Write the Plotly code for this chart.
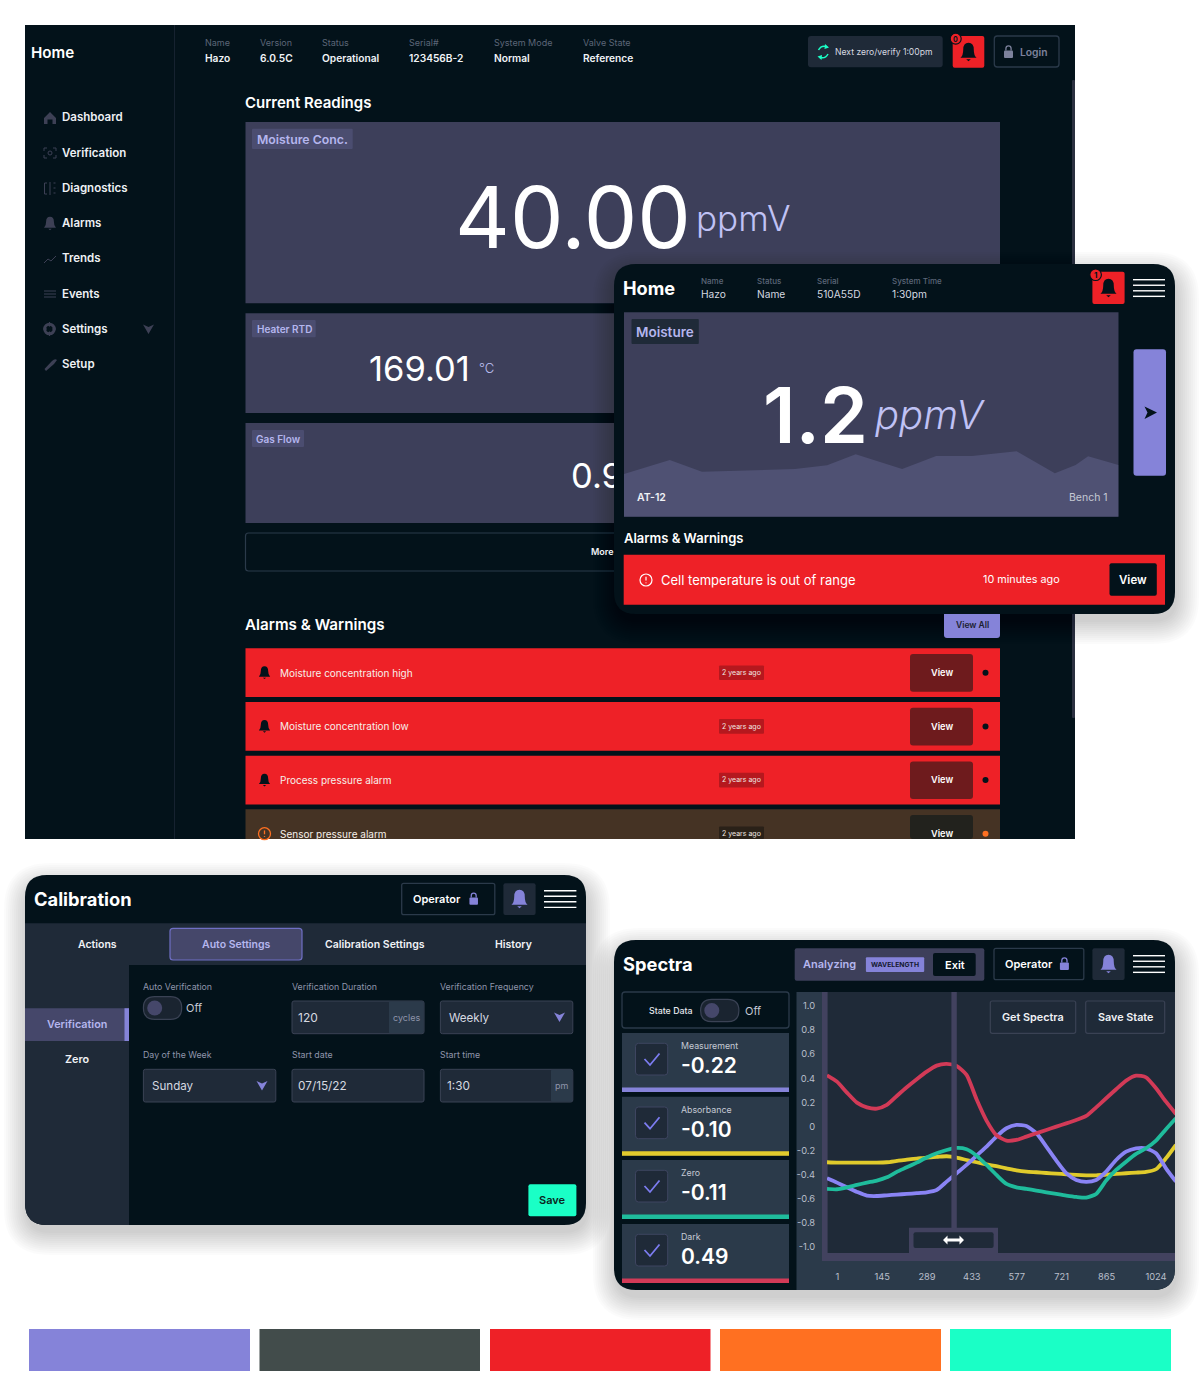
import plotly.graph_objects as go

# palette swatches along the bottom
PALETTE = ["#8583d9", "#424c4b", "#ee2127", "#ff7021", "#1affc6"]

# main dashboard
NAV_ITEMS = ["Dashboard", "Verification", "Diagnostics", "Alarms", "Trends", "Events", "Settings", "Setup"]
HEADER_LABELS = ["Name", "Version", "Status", "Serial#", "System Mode", "Valve State"]
HEADER_VALUES = ["Hazo", "6.0.5C", "Operational", "123456B-2", "Normal", "Reference"]
ALARM_TEXTS = ["Moisture concentration high", "Moisture concentration low", "Process pressure alarm", "Sensor pressure alarm"]
ALARM_AGE = "2 years ago"

# home popup
POPUP_LABELS = ["Name", "Status", "Serial", "System Time"]
POPUP_VALUES = ["Hazo", "Name", "510A55D", "1:30pm"]
TREND_T = [0, 128, 218, 478, 568, 648, 778, 873, 973, 1098, 1205, 1263, 1298, 1383]
TREND_V = [128, 170, 135, 143, 154, 187, 143, 182, 182, 196, 130, 155, 181, 155]

# calibration tabs
CAL_TABS = ["Actions", "Auto Settings", "Calibration Settings", "History"]

# spectra panel
READOUT_NAMES = ["Measurement", "Absorbance", "Zero", "Dark"]
READOUT_VALUES = ["-0.22", "-0.10", "-0.11", "0.49"]
READOUT_COLOURS = ["#8583d9", "#e0cb2c", "#1fbc9c", "#d23a57"]
WAVE_TICKS = [1, 145, 289, 433, 577, 721, 865, 1024]
LEVEL_TICKS = [1.0, 0.8, 0.6, 0.4, 0.2, 0, -0.2, -0.4, -0.6, -0.8, -1.0]
LEVEL_LABELS = ["1.0", "0.8", "0.6", "0.4", "0.2", "0", "-0.2", "-0.4", "-0.6", "-0.8", "-1.0"]
WAVE = list(range(-32, 1089, 32))
DARK = [.425, .372, .281, .198, .159, .148, .179, .253, .325, .392, .455, .505, .519, .502, .428, .226, .049, -.073,
        -.117, -.112, -.084, -.056, -.029, -.001, .026, .054, .087, .159, .234, .309, .381, .422, .408, .317, .206, .104]
MEASUREMENT = [-.430, -.466, -.505, -.543, -.574, -.577, -.571, -.565, -.560, -.554, -.546, -.527, -.458, -.388, -.319,
               -.242, -.167, -.084, -.015, .013, .004, -.056, -.167, -.283, -.388, -.444, -.460, -.444, -.375, -.278,
               -.209, -.181, -.181, -.222, -.347, -.458]
ABSORBANCE = [-.297, -.300, -.300, -.300, -.300, -.300, -.297, -.286, -.275, -.267, -.258, -.253, -.247, -.258, -.278,
              -.297, -.314, -.330, -.347, -.364, -.375, -.380, -.386, -.391, -.397, -.402, -.405, -.405, -.400, -.394,
              -.388, -.383, -.377, -.355, -.264, -.153]
ZERO = [-.518, -.521, -.505, -.485, -.466, -.449, -.422, -.377, -.339, -.300, -.258, -.222, -.195, -.178, -.189, -.242,
        -.319, -.402, -.477, -.505, -.518, -.532, -.546, -.560, -.574, -.585, -.590, -.560, -.449, -.361, -.292, -.228,
        -.181, -.117, -.023, .068]

BG = "#03121a"
SLATE = "#1f2a38"
STEEL = "#2b3a4a"
PANEL = "#3d3f5a"
BAND = "#42425f"
LILAC = "#b5b6ee"
MUTED = "#8f95ab"
FONT = "Inter"

shapes = []
notes = []


def rr(x0, y0, x1, y1, r=0, fill=None, line=None, lw=1, layer="below"):
    """Rounded box in page pixels"""
    p = (f"M{x0+r} {y0} L{x1-r} {y0} Q{x1} {y0} {x1} {y0+r} L{x1} {y1-r} Q{x1} {y1} {x1-r} {y1} "
         f"L{x0+r} {y1} Q{x0} {y1} {x0} {y1-r} L{x0} {y0+r} Q{x0} {y0} {x0+r} {y0} Z")
    path(p, fill, line, lw, layer)


def path(p, fill=None, line=None, lw=1, layer="below"):
    shapes.append(dict(type="path", path=p, xref="x", yref="y", layer=layer,
                       fillcolor=fill or "rgba(0,0,0,0)",
                       line=dict(color=line or "rgba(0,0,0,0)", width=lw if line else 0)))


def circle(cx, cy, r, fill=None, line=None, lw=1):
    shapes.append(dict(type="circle", xref="x", yref="y", x0=cx - r, x1=cx + r, y0=cy - r, y1=cy + r, layer="below",
                       fillcolor=fill or "rgba(0,0,0,0)",
                       line=dict(color=line or "rgba(0,0,0,0)", width=lw if line else 0)))


def t(x, y, text, size=10, color="#ffffff", weight=400, anchor="left", style="normal"):
    # annotations sit a little inside their anchor, pull them back
    if anchor == "left":
        x -= 1.3
    elif anchor == "right":
        x += 1
    notes.append(dict(x=x, y=y - 0.2, xref="x", yref="y", text=text, showarrow=False, xanchor=anchor, yanchor="middle",
                      borderpad=0, font=dict(family=FONT, size=size, color=color, weight=weight, style=style)))


def bell(cx, cy, s=1.0, color="#000000"):
    p = (f"M{cx-7*s} {cy+5*s} Q{cx-4.6*s} {cy+3*s} {cx-4.6*s} {cy-2*s} Q{cx-4.6*s} {cy-8*s} {cx} {cy-8*s} "
         f"Q{cx+4.6*s} {cy-8*s} {cx+4.6*s} {cy-2*s} Q{cx+4.6*s} {cy+3*s} {cx+7*s} {cy+5*s} Z "
         f"M{cx-2*s} {cy+6.2*s} L{cx+2*s} {cy+6.2*s} L{cx} {cy+8*s} Z")
    path(p, color)


def chevron(cx, cy, s=1.0, color="#8583d9"):
    path(f"M{cx-5.5*s} {cy-4.5*s} L{cx} {cy-2*s} L{cx+5.5*s} {cy-4.5*s} L{cx} {cy+5*s} Z", color)


def lock(cx, cy, color, s=1.0):
    rr(cx - 4.5 * s, cy - 1.5 * s, cx + 4.5 * s, cy + 6 * s, 1, color)
    path(f"M{cx-2.6*s} {cy-1.5*s} L{cx-2.6*s} {cy-3.5*s} Q{cx-2.6*s} {cy-6.2*s} {cx} {cy-6.2*s} "
         f"Q{cx+2.6*s} {cy-6.2*s} {cx+2.6*s} {cy-3.5*s} L{cx+2.6*s} {cy-1.5*s}", None, color, 1.3 * s)


def burger(x0, x1, y0):
    for k in range(4):
        yy = y0 + k * 5.55
        path(f"M{x0} {yy} L{x1} {yy}", None, "#ffffff", 1.4)


def toggle(x0, y0, x1, y1):
    rr(x0, y0, x1, y1, (y1 - y0) / 2, "#1a2430", "#3a4254", 1.2)
    circle(x0 + (y1 - y0) / 2, (y0 + y1) / 2, 7.5, "#45476a")


def shadow(x0, y0, x1, y1, r):
    for k in range(12, 0, -1):
        rr(x0 - k * 2 + 3, y0 - k * 2 + 12, x1 + k * 2, y1 + k * 2 + 6, r + k * 2, "rgba(0,0,0,0.015)")


def alert(cx, cy, r, color, lw=1.3):
    circle(cx, cy, r, None, color, lw)
    path(f"M{cx} {cy-r*.55} L{cx} {cy+r*.1}", None, color, lw)
    path(f"M{cx} {cy+r*.4} L{cx} {cy+r*.55}", None, color, lw)


# ---- main dashboard ----
rr(25, 25, 1075, 839, 0, BG)
path("M174.5 25 L174.5 839", None, "#162230", 1)
rr(1072, 80, 1075, 718, 1, "#2b3040")
t(31, 53, "Home", 15.2, "#ffffff", 600)

nav_y = [117.5, 153, 188, 223.5, 258.5, 294, 329, 364.5]
for name, yy in zip(NAV_ITEMS, nav_y):
    t(62.5, yy, name, 11.5, "#eef0f4", 600)
ic = "#3d4055"
path("M44 118 L50 112 L56 118 L56 124 L52.5 124 L52.5 119.5 L47.5 119.5 L47.5 124 L44 124 Z", ic)
path("M44 151 L44 148 L47 148 M53 148 L56 148 L56 151 M56 155 L56 158 L53 158 M47 158 L44 158 L44 155", None, ic, 1)
circle(50, 153, 2, None, ic, 1)
path("M47 183 L44.5 183 L44.5 194 L47 194 M50 182 L50 195", None, ic, 1)
path("M53.5 183 L55.5 183 M53.5 188 L55.5 188 M53.5 193 L55.5 193", None, ic, 1)
bell(50, 223.5, 0.85, ic)
path("M44 263 L48 259 L51 261 L56 256", None, ic, 1)
path("M44 291 L56 291 M44 294 L56 294 M44 297 L56 297", None, ic, 1)
circle(49.5, 329, 4.8, None, ic, 3)
path("M49.5 322 L49.5 336 M43 329 L56 329", None, ic, 1.2)
circle(49.5, 329, 2.6, BG)
path("M44.5 369 L52 361 Q55 358 57 360 L54 364 L46 371 Z", ic)
chevron(148.5, 329, 1.0, "#3d4055")

for x, a, b in zip([205.3, 260.7, 322.7, 409.5, 494, 583.5], HEADER_LABELS, HEADER_VALUES):
    t(x, 43, a, 9, "#5c6678")
    t(x, 58.5, b, 10.2, "#f0f2f6", 600)

rr(808, 36, 942.7, 67.3, 3, SLATE)
path("M818.5 50 Q821 45 826.5 46.5 M828 54 Q825.5 59 820 57.5", None, "#1affc6", 1.5)
path("M825 44 L829 47.5 L824.5 49 Z M821.5 60 L817.5 56.5 L822 55 Z", "#1affc6")
t(835.7, 52, "Next zero/verify 1:00pm", 8.6, "#d6d9e0")
rr(952.7, 36, 984.3, 67.7, 2, "#ee2127")
bell(968.5, 52, 1.15, "#03121a")
circle(955.7, 38.7, 5.5, "#ee2127", "#03121a", 1.2)
t(955.7, 39.4, "0", 7, "#03121a", 700, "center")
rr(994.3, 36, 1059, 67, 3, None, STEEL, 1.3)
lock(1008.5, 52, "#7d829c", 1.0)
t(1020.5, 52, "Login", 10.3, "#7d829c", 600)

t(245.5, 103, "Current Readings", 15, "#ffffff", 600)
rr(245.5, 122, 1000, 303.3, 0, PANEL)
rr(252, 128.7, 352.7, 149, 1, "#4b4d70")
t(302.3, 139.5, "Moisture Conc.", 12.3, LILAC, 600, "center")
t(455, 218, "40.00", 85, "#ffffff", 400)
t(696, 218, "ppmV", 35, "#c0c2f5", 300)

rr(245.5, 313.3, 1000, 413, 0, PANEL)
rr(252, 320, 315.7, 337.3, 1, "#4b4d70")
t(284, 329, "Heater RTD", 10, LILAC, 600, "center")
t(369, 369, "169.01", 34.5, "#ffffff", 400)
t(479, 368.5, "°C", 13, "#c0c2f5", 300)

rr(245.5, 423, 1000, 523, 0, PANEL)
rr(252, 430, 304, 447, 1, "#4b4d70")
t(278, 439, "Gas Flow", 10, LILAC, 600, "center")

rr(245.5, 533, 1000, 571, 3, None, STEEL, 1.2)
t(591.5, 552, "More", 9, "#f0f2f6", 600)

t(245.5, 625, "Alarms &amp; Warnings", 15.2, "#ffffff", 600)

row_tops = [648.3, 702, 755.7, 809.3]
for k, (name, top) in enumerate(zip(ALARM_TEXTS, row_tops)):
    warn = k == 3
    mid = top + 24.4
    bottom = min(top + 48.7, 839)
    rr(245.5, top, 1000, bottom, 0, "#453324" if warn else "#ee2127")
    if warn:
        alert(264.5, mid, 6, "#ff7021", 1.3)
    else:
        bell(264.5, mid, 0.8, "#03121a")
    t(280, mid, name, 10, "#f6f0ea")
    rr(719, mid - 7.3, 764, min(mid + 7.3, 839), 1, "#2a2118" if warn else "#b5181e")
    t(741.5, mid, ALARM_AGE, 7, "#f0e6e0", 400, "center")
    rr(910, top + 5.7, 973, min(top + 43.4, 839), 3, "#22221d" if warn else "#6e1b1d")
    t(941.5, mid, "View", 9.2, "#ffffff", 600, "center")
    circle(985.5, mid, 3, "#ff7021" if warn else BG)

# ---- home popup ----
shadow(614, 264, 1175, 614, 22)
rr(944, 600, 1000, 638, 3, "#8583d9")
t(972, 625, "View All", 8.5, "#1b2030", 600, "center")
rr(614, 264, 1175, 614, 22, BG)
t(623, 288, "Home", 18.2, "#ffffff", 700)
for x, a, b in zip([701.3, 757.5, 817, 892.7], POPUP_LABELS, POPUP_VALUES):
    t(x, 281, a, 8, "#5c6678", 500)
    t(x, 294.5, b, 10.2, "#d6d9e0")
rr(1092.4, 271.7, 1124.6, 304, 2, "#ee2127")
bell(1108.5, 288, 1.15, "#03121a")
circle(1095.6, 274.7, 5.8, "#ee2127", "#03121a", 1.2)
t(1095.6, 275.4, "1", 8, "#03121a", 700, "center")
burger(1133, 1165, 279.7)

rr(624, 312.3, 1118.5, 516.7, 0, PANEL)
rr(631.5, 319, 698.8, 344, 1, SLATE)
t(665, 332, "Moisture", 13.5, LILAC, 600, "center")
t(763, 415, "1.2", 77, "#ffffff", 600)
t(875, 415, "ppmV", 40, "#c0c2f5", 300, "left", "italic")
t(637, 497.5, "AT-12", 10.5, "#f0f2f6", 600)
t(1108, 497.5, "Bench 1", 10.5, "#c5c9d4", 400, "right")
rr(1133.5, 349.3, 1166, 475.7, 3, "#8583d9")
path("M1144.5 406.5 L1157 412.5 L1144.5 419 L1147.5 412.5 Z", "#03121a")

t(624, 538, "Alarms &amp; Warnings", 13, "#ffffff", 600)
rr(623.7, 554.7, 1165, 604.7, 0, "#ee2127")
alert(646, 580, 6, "#ffffff", 1.2)
t(661, 580, "Cell temperature is out of range", 13, "#ffffff")
t(983.6, 580, "10 minutes ago", 10.8, "#ffffff")
rr(1109.5, 563.3, 1156.8, 595.7, 2, BG)
t(1133, 579.7, "View", 11.5, "#ffffff", 600, "center")

# ---- calibration ----
shadow(25, 875, 586, 1225, 22)
rr(25, 875, 586, 1225, 22, BG)
path("M25 923.3 L586 923.3 L586 965 L129 965 L129 1225 L47 1225 Q25 1225 25 1203 Z", SLATE)
t(34.5, 899, "Calibration", 18.3, "#ffffff", 700)
rr(401.7, 883.3, 494.8, 914.7, 2, None, STEEL, 1.3)
t(436.5, 899, "Operator", 11, "#ffffff", 600, "center")
lock(473.7, 899, "#8583d9", 0.95)
rr(503.4, 883.3, 535.6, 915, 2, SLATE)
bell(519.5, 899, 1.15, "#8583d9")
burger(544, 576.4, 890.7)

rr(170, 928.3, 302, 960, 3, "#45476a", "#6f6fc4", 1.2)
for name, x in zip(CAL_TABS, [97, 236, 375, 513.5]):
    t(x, 944.5, name, 10.5, LILAC if name == "Auto Settings" else "#f0f2f6", 600, "center")
rr(25, 1008.3, 129, 1041, 0, "#45476a")
rr(124.5, 1008.3, 129, 1041, 0, "#8583d9")
t(77, 1025, "Verification", 10.8, LILAC, 600, "center")
t(77, 1060, "Zero", 10.8, "#f0f2f6", 600, "center")

t(143.5, 987, "Auto Verification", 8.8, MUTED)
toggle(143.4, 996.7, 181.7, 1019.3)
t(186, 1008.5, "Off", 11, "#c5c9d4")
t(292, 987, "Verification Duration", 8.8, MUTED)
t(440.4, 987, "Verification Frequency", 8.8, MUTED)
t(143.5, 1055, "Day of the Week", 8.8, MUTED)
t(292, 1055, "Start date", 8.8, MUTED)
t(440.4, 1055, "Start time", 8.8, MUTED)

rr(292, 1001, 424, 1033.7, 2, SLATE, "#3a4254", 1)
rr(389, 1001.5, 423.5, 1033.2, 1, STEEL)
t(298, 1018, "120", 12, "#d6d9e0")
t(406.5, 1017.5, "cycles", 9, MUTED, 400, "center")
rr(440.4, 1001, 572.8, 1033.7, 2, SLATE, "#3a4254", 1)
t(449.5, 1018, "Weekly", 11.6, "#d6d9e0")
chevron(559.5, 1017, 1.0)
rr(143.4, 1069.3, 275.8, 1102, 2, SLATE, "#3a4254", 1)
t(152.5, 1086, "Sunday", 11.6, "#d6d9e0")
chevron(262, 1085.5, 1.0)
rr(292, 1069.3, 424, 1102, 2, SLATE, "#3a4254", 1)
t(298.5, 1086, "07/15/22", 11.8, "#d6d9e0")
rr(440.4, 1069.3, 572.8, 1102, 2, SLATE, "#3a4254", 1)
rr(551, 1069.8, 572.3, 1101.5, 1, STEEL)
t(447, 1086, "1:30", 11.8, "#d6d9e0")
t(561.8, 1086, "pm", 9, MUTED, 400, "center")
rr(528.4, 1184.3, 576.4, 1216.3, 2, "#1affc6")
t(552.4, 1200.5, "Save", 11, "#0b2420", 600, "center")

# ---- spectra ----
shadow(614, 940, 1175, 1290, 22)
rr(614, 940, 1175, 1290, 22, BG)
path("M796.5 992 L1175 992 L1175 1268 Q1175 1290 1153 1290 L796.5 1290 Z", STEEL)
rr(827, 992, 1175, 1253, 0, SLATE)
rr(822, 992, 827.6, 1261, 0, BAND)
rr(822, 1253, 1175, 1261, 0, BAND)
rr(909, 1227.7, 998, 1253, 0, BAND)
rr(913.5, 1232.3, 993.6, 1248, 2, SLATE)
path("M943 1240 L947.5 1235.5 L947.5 1238.5 L959.5 1238.5 L959.5 1235.5 L964 1240 L959.5 1244.5 L959.5 1241.5 "
     "L947.5 1241.5 L947.5 1244.5 Z", "#ffffff")
# the cursor passes in front of the curves
rr(951.4, 992, 956.8, 1228, 0, BAND, layer="above")

t(623.5, 964, "Spectra", 18.3, "#ffffff", 700)
rr(794.7, 948.3, 984.3, 980.7, 2, PANEL)
t(803.5, 964.5, "Analyzing", 11, LILAC, 600)
rr(865.9, 957.3, 924.2, 972, 1, "#8583d9")
t(895, 964.8, "WAVELENGTH", 6.8, "#141a30", 700, "center")
rr(933, 953, 975.7, 976, 2, BG)
t(954.5, 964.8, "Exit", 11, "#ffffff", 600, "center")
rr(994, 948.3, 1083.8, 979.7, 2, None, STEEL, 1.3)
t(1029, 964, "Operator", 11, "#ffffff", 600, "center")
lock(1064.4, 964, "#8583d9", 1.0)
rr(1092.4, 948.3, 1124.6, 980, 2, SLATE)
bell(1108.5, 964, 1.15, "#8583d9")
burger(1133, 1165, 955.7)

rr(622, 992, 789, 1028, 3, None, STEEL, 1.3)
t(671, 1010.7, "State Data", 8.8, "#e6e8ee", 500, "center")
toggle(700.6, 999.3, 738.9, 1021.7)
t(745.5, 1011, "Off", 11, "#c5c9d4")

rr(990.3, 1001, 1075.7, 1033.3, 2, None, "#3a4254", 1.2)
t(1033, 1017.5, "Get Spectra", 10.8, "#f0f2f6", 600, "center")
rr(1085.7, 1001, 1164.7, 1033.3, 2, None, "#3a4254", 1.2)
t(1125.2, 1017.5, "Save State", 10.8, "#f0f2f6", 600, "center")

card_tops = [1033, 1096.7, 1160, 1224]
for name, val, col, top in zip(READOUT_NAMES, READOUT_VALUES, READOUT_COLOURS, card_tops):
    rr(622, top, 789, top + 59, 0, STEEL)
    rr(622, top + 54.6, 789, top + 59, 0, col)
    rr(635.5, top + 10.3, 667.7, top + 42, 3, SLATE, "#3e4560", 1)
    path(f"M644.5 {top+26} L650 {top+32} L659.5 {top+20.5}", None, "#7c7cf0", 1.8)
    t(681, top + 13, name, 8.8, "#c5c9d4")
    t(681, top + 32.5, val, 21, "#ffffff", 600)

# ---- swatches ----
for col, (x0, x1) in zip(PALETTE, [(29, 250), (259.5, 480), (490, 710.5), (720, 941), (950, 1171)]):
    rr(x0, 1329, x1, 1371, 0, col)

fig = go.Figure()
for series, col in [(ABSORBANCE, "#e0cb2c"), (MEASUREMENT, "#8a84f5"), (DARK, "#d23a57"), (ZERO, "#1fbc9c")]:
    fig.add_trace(go.Scatter(x=WAVE, y=series, mode="lines", xaxis="x2", yaxis="y2", hoverinfo="skip",
                             line=dict(color=col, width=3.8, shape="spline", smoothing=0.6)))
fig.add_trace(go.Scatter(x=TREND_T, y=TREND_V, mode="lines", xaxis="x3", yaxis="y3", hoverinfo="skip",
                         fill="tozeroy", fillcolor="#4f5173", line=dict(width=0)))
# gas flow reading runs under the popup, so it lives on an axis that stops at the popup edge
fig.add_trace(go.Scatter(x=[571], y=[479], mode="text", text=["0.9"], textposition="middle right",
                         xaxis="x4", yaxis="y4", hoverinfo="skip", cliponaxis=True,
                         textfont=dict(family=FONT, size=34.5, color="#ffffff")))

tick_font = dict(family=FONT, size=9.3, color="#b9bfca")
fig.update_layout(
    width=1200,
    height=1400,
    margin=dict(l=0, r=0, t=0, b=0),
    paper_bgcolor="#ffffff",
    plot_bgcolor="rgba(0,0,0,0)",
    showlegend=False,
    shapes=shapes,
    annotations=notes,
    xaxis=dict(range=[0, 1200], domain=[0, 1], visible=False, fixedrange=True),
    yaxis=dict(range=[1400, 0], domain=[0, 1], visible=False, fixedrange=True),
    xaxis2=dict(domain=[827 / 1200, 1175 / 1200], range=[-32, 1085], anchor="y2", tickvals=WAVE_TICKS,
                ticks="outside", ticklen=15, tickcolor="rgba(0,0,0,0)", tickfont=tick_font,
                showgrid=False, zeroline=False, showline=False, fixedrange=True),
    yaxis2=dict(domain=[147 / 1400, 408 / 1400], range=[-1.05, 1.116], anchor="x2", tickvals=LEVEL_TICKS,
                ticktext=LEVEL_LABELS, ticks="outside", ticklen=9, tickcolor="rgba(0,0,0,0)", tickfont=tick_font,
                showgrid=False, zeroline=False, showline=False, fixedrange=True),
    xaxis3=dict(domain=[624 / 1200, 1118.5 / 1200], range=[0, 1383], anchor="y3", visible=False, fixedrange=True),
    yaxis3=dict(domain=[883.3 / 1400, 1087.7 / 1400], range=[0, 613], anchor="x3", visible=False, fixedrange=True),
    xaxis4=dict(domain=[245.5 / 1200, 614 / 1200], range=[245.5, 614], anchor="y4", visible=False, fixedrange=True),
    yaxis4=dict(domain=[877 / 1400, 977 / 1400], range=[523, 423], anchor="x4", visible=False, fixedrange=True),
)

fig.write_html("out.html", config=dict(displayModeBar=False),
               post_script="document.body.style.margin='0';")
